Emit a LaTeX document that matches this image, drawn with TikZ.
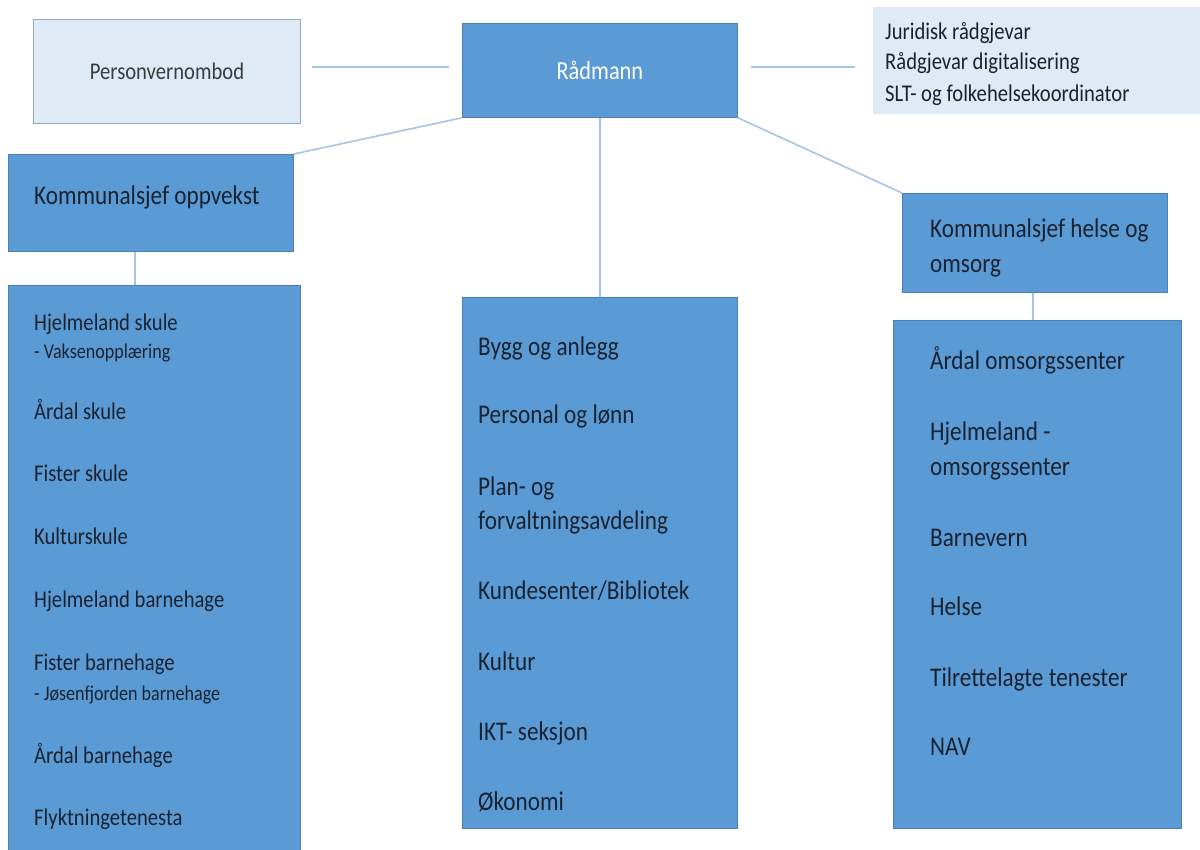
\documentclass[tikz,border=0pt]{standalone}
\usepackage{fontspec}
\setmainfont{Carlito}[FakeStretch=0.86]
\definecolor{boxblue}{HTML}{5B9BD5}
\definecolor{boxedge}{HTML}{4A80B8}
\definecolor{lightfill}{HTML}{DEEAF6}
\definecolor{lightedge}{HTML}{8EA9CC}
\definecolor{linkblue}{HTML}{A5C5E6}
\definecolor{inkdark}{HTML}{1A2230}
\definecolor{inkgray}{HTML}{3A3A3A}
\tikzset{
  bluebox/.style={draw=boxedge, line width=0.8pt, fill=boxblue},
  lightbox/.style={draw=lightedge, line width=1pt, fill=lightfill},
  link/.style={draw=linkblue, line width=1.6pt},
  txt/.style={anchor=mid west, inner sep=0pt, yshift=-6pt, text=inkdark},
  item/.style={txt, font=\fontsize{24}{29}\selectfont},
  bigitem/.style={txt, font=\fontsize{27}{33}\selectfont},
  headitem/.style={txt, font=\fontsize{27}{33}\selectfont},
  subitem/.style={txt, font=\fontsize{21}{25}\selectfont},
  staffitem/.style={txt, font=\fontsize{24}{29}\selectfont},
}
\begin{document}
\begin{tikzpicture}[x=1pt,y=-1pt]
\useasboundingbox (0,0) rectangle (1200,850);
\fill[white] (0,0) rectangle (1200,850);
% boxes
\node[lightbox, minimum width=267pt, minimum height=104pt, anchor=north west, text=inkgray, font=\fontsize{24}{29}\selectfont] (pv) at (33,19) {Personvernombod};
\node[bluebox, minimum width=275pt, minimum height=94pt, anchor=north west, text=white, font=\fontsize{26}{31}\selectfont] (rad) at (462,23) {Rådmann};
\node[fill=lightfill, minimum width=330pt, minimum height=107pt, anchor=north west, inner sep=0pt] (staff) at (873,7) {};
\node[staffitem] (s1) at (885,31) {Juridisk rådgjevar};
\node[staffitem] (s2) at (885,61) {Rådgjevar digitalisering};
\node[staffitem] (s3) at (885,93) {SLT- og folkehelsekoordinator};

\node[bluebox, minimum width=285pt, minimum height=97pt, anchor=north west] (ks1) at (8,154) {};
\node[headitem] (ks1t) at (34,196) {Kommunalsjef oppvekst};

\node[bluebox, minimum width=265pt, minimum height=99pt, anchor=north west] (ks2) at (902,193) {};
\node[headitem] (ks2a) at (930,229) {Kommunalsjef helse og};
\node[headitem] (ks2b) at (930,264) {omsorg};

\node[bluebox, minimum width=292pt, minimum height=570pt, anchor=north west] (left) at (8,285) {};
\node[bluebox, minimum width=275pt, minimum height=531pt, anchor=north west] (mid) at (462,297) {};
\node[bluebox, minimum width=288pt, minimum height=508pt, anchor=north west] (right) at (893,320) {};

% left items
\node[item] (l1) at (34,322) {Hjelmeland skule};
\node[subitem] (l1s) at (34,350) {- Vaksenopplæring};
\node[item] (l2) at (34,411) {Årdal skule};
\node[item] (l3) at (34,473) {Fister skule};
\node[item] (l4) at (34,536) {Kulturskule};
\node[item] (l5) at (34,599) {Hjelmeland barnehage};
\node[item] (l6) at (34,662) {Fister barnehage};
\node[subitem] (l6s) at (34,692) {- Jøsenfjorden barnehage};
\node[item] (l7) at (34,755) {Årdal barnehage};
\node[item] (l8) at (34,817) {Flyktningetenesta};

% middle items
\node[bigitem] (m1) at (478,347) {Bygg og anlegg};
\node[bigitem] (m2) at (478,415) {Personal og lønn};
\node[bigitem] (m3a) at (478,487) {Plan- og};
\node[bigitem] (m3b) at (478,521) {forvaltningsavdeling};
\node[bigitem] (m4) at (478,591) {Kundesenter/Bibliotek};
\node[bigitem] (m5) at (478,662) {Kultur};
\node[bigitem] (m6) at (478,732) {IKT- seksjon};
\node[bigitem] (m7) at (478,802) {Økonomi};

% right items
\node[bigitem] (r1) at (930,361) {Årdal omsorgssenter};
\node[bigitem] (r2a) at (930,432) {Hjelmeland -};
\node[bigitem] (r2b) at (930,467) {omsorgssenter};
\node[bigitem] (r3) at (930,538) {Barnevern};
\node[bigitem] (r4) at (930,607) {Helse};
\node[bigitem] (r5) at (930,678) {Tilrettelagte tenester};
\node[bigitem] (r6) at (930,747) {NAV};

% connectors
\coordinate (pvend) at (312,67);
\coordinate (radl) at (449,67);
\coordinate (radr) at (751,67);
\coordinate (staffend) at (855,67);
\draw[link] (pvend) -- (radl);
\draw[link] (radr) -- (staffend);
\draw[link] (rad.south west) -- (ks1.north east);
\draw[link] (rad.south) -- (rad.south |- mid.north);
\draw[link] (rad.south east) -- (ks2.north west);
\draw[link] (ks1.south -| 135,0) -- (left.north -| 135,0);
\draw[link] (ks2.south -| 1033,0) -- (right.north -| 1033,0);
\end{tikzpicture}
\end{document}
